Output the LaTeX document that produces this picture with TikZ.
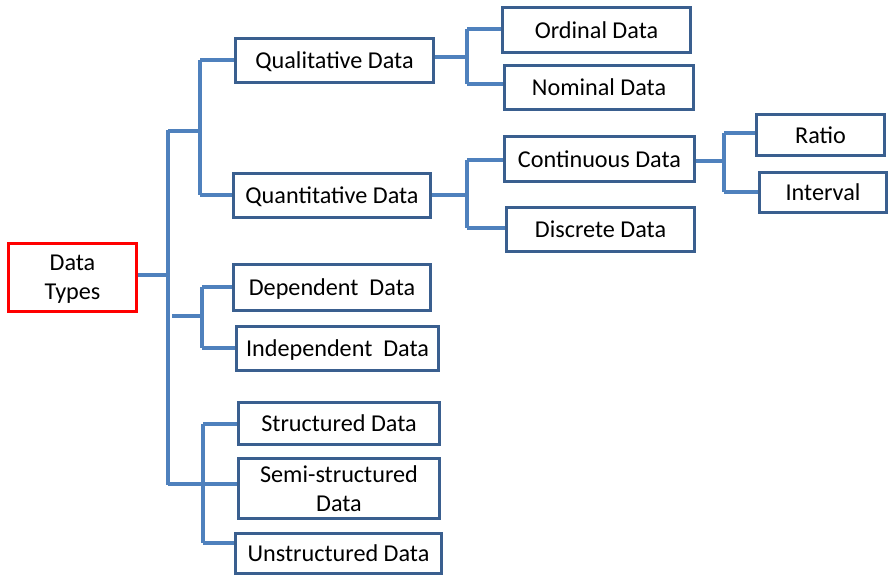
\documentclass[tikz,border=0pt]{standalone}
\usepackage{fontspec}
\setmainfont{Carlito}
\definecolor{boxblue}{HTML}{3A5F8F}
\definecolor{lineblue}{HTML}{4F81BD}
\definecolor{boxred}{HTML}{FF0000}
\begin{document}
\begin{tikzpicture}[x=1pt,y=-1pt,
  box/.style={draw=boxblue, line width=3.2pt, fill=white, inner sep=0pt, align=center, text depth=0pt, font=\fontsize{24.2}{29}\selectfont},
  conn/.style={draw=lineblue, line width=3.2pt}]
\useasboundingbox (0,0) rectangle (888,575);
% junction coordinates
\coordinate (m1) at (168,130);
\coordinate (m2) at (168,485);
\coordinate (mdt) at (168,275);
\coordinate (q0) at (168,131);
\coordinate (q1) at (200,131);
\coordinate (qa) at (200,60);
\coordinate (qb) at (200,195);
\coordinate (d0) at (172,316);
\coordinate (d1) at (202,316);
\coordinate (da) at (202,287);
\coordinate (db) at (202,348);
\coordinate (s0) at (168,484);
\coordinate (s1) at (203,484);
\coordinate (sa) at (203,424);
\coordinate (sb) at (203,543);
\coordinate (o1) at (467,57);
\coordinate (oa) at (467,29);
\coordinate (ob) at (467,84);
\coordinate (c1) at (467,195);
\coordinate (ca) at (467,160);
\coordinate (cb) at (467,228);
\coordinate (r1) at (724,161);
\coordinate (ra) at (724,133);
\coordinate (rb) at (724,192);
% connectors
\draw[conn] (m1) -- (m2);
\draw[conn] (q0) -- (q1);
\draw[conn] (qa) -- (qb);
\draw[conn] (d0) -- (d1);
\draw[conn] (da) -- (db);
\draw[conn] (s0) -- (s1);
\draw[conn] (sa) -- (sb);
\draw[conn] (oa) -- (ob);
\draw[conn] (ca) -- (cb);
\draw[conn] (ra) -- (rb);
% boxes
\node[box, draw=boxred, minimum width=128pt, minimum height=68pt] (dt) at (72.5,277.5) {Data\\Types};
\node[box, minimum width=198pt, minimum height=44pt] (qual) at (334.5,60.5) {Qualitative Data};
\node[box, minimum width=197pt, minimum height=44pt] (quan) at (332,195.5) {Quantitative Data};
\node[box, minimum width=197pt, minimum height=46pt] (dep) at (332,287.5) {Dependent\ \ Data};
\node[box, minimum width=202pt, minimum height=44pt] (ind) at (337.5,348.5) {Independent\ \ Data};
\node[box, minimum width=201pt, minimum height=42pt] (str) at (339,423.5) {Structured Data};
\node[box, minimum width=201pt, minimum height=60pt] (semi) at (339,488.5) {Semi-structured\\Data};
\node[box, minimum width=206pt, minimum height=40pt] (uns) at (338.5,553.5) {Unstructured Data};
\node[box, minimum width=188pt, minimum height=45pt] (ord) at (596.5,30) {Ordinal Data};
\node[box, minimum width=189pt, minimum height=44pt] (nom) at (599,87.5) {Nominal Data};
\node[box, minimum width=190pt, minimum height=45pt] (cont) at (599.5,159) {Continuous\ Data};
\node[box, minimum width=188pt, minimum height=44pt] (disc) at (600.5,229.5) {Discrete Data};
\node[box, minimum width=128pt, minimum height=41pt] (ratio) at (820.5,135) {Ratio};
\node[box, minimum width=127pt, minimum height=40pt] (int) at (823,192.5) {Interval};
% connectors to boxes
\draw[conn] (dt.east |- mdt) -- (mdt);
\draw[conn] (qa) -- (qual.west |- qa);
\draw[conn] (qb) -- (quan.west |- qb);
\draw[conn] (da) -- (dep.west |- da);
\draw[conn] (db) -- (ind.west |- db);
\draw[conn] (sa) -- (str.west |- sa);
\draw[conn] (s1) -- (semi.west |- s1);
\draw[conn] (sb) -- (uns.west |- sb);
\draw[conn] (qual.east |- o1) -- (o1);
\draw[conn] (oa) -- (ord.west |- oa);
\draw[conn] (ob) -- (nom.west |- ob);
\draw[conn] (quan.east |- c1) -- (c1);
\draw[conn] (ca) -- (cont.west |- ca);
\draw[conn] (cb) -- (disc.west |- cb);
\draw[conn] (cont.east |- r1) -- (r1);
\draw[conn] (ra) -- (ratio.west |- ra);
\draw[conn] (rb) -- (int.west |- rb);
\end{tikzpicture}
\end{document}
